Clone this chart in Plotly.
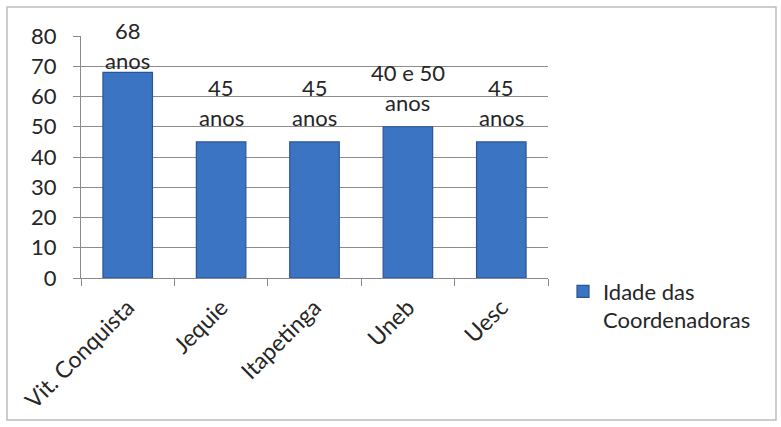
import plotly.graph_objects as go

categories = ["Vit. Conquista", "Jequie", "Itapetinga", "Uneb", "Uesc"]
values = [68, 45, 45, 50, 45]
value_labels = ["68", "45", "45", "40 e 50", "45"]
unit_label = "anos"
series_name = "Idade das<br>Coordenadoras"
y_ticks = [0, 10, 20, 30, 40, 50, 60, 70, 80]

FONT = "Lato, 'Open Sans', sans-serif"
TXT = "#262626"
W, H = 781, 427
L, R, T, B = 81, 233, 36, 149
pw, ph = W - L - R, H - T - B
YMAX = 80
px_per_unit = ph / YMAX

fig = go.Figure()
fig.add_trace(go.Bar(
    x=categories, y=values, name=series_name,
    marker=dict(color="#3b74c2", line=dict(color="#2a5593", width=1.2)),
    width=0.53,
))

annotations = []
for cat, v, num in zip(categories, values, value_labels):
    top_abs = T + (YMAX - v) * px_per_unit
    shift_num = min(54, top_abs - 30)
    shift_unit = shift_num - 30
    for txt, sh in ((num, shift_num), (unit_label, shift_unit)):
        annotations.append(dict(x=cat, y=v, xref="x", yref="y", text=txt,
                                showarrow=False, yanchor="middle", yshift=sh,
                                font=dict(family=FONT, size=22, color=TXT)))

fig.update_layout(
    width=W, height=H,
    margin=dict(l=L, r=R, t=T, b=B),
    paper_bgcolor="white", plot_bgcolor="white",
    font=dict(family=FONT, size=21, color=TXT),
    showlegend=True,
    legend=dict(x=(563 - L) / pw, y=(T + ph - 306) / ph, xanchor="left", yanchor="middle",
                valign="top", itemwidth=30,
                font=dict(family=FONT, size=22, color=TXT), bgcolor="rgba(0,0,0,0)"),
    xaxis=dict(showline=True, linecolor="#8a8a8a", ticks="outside", tickson="boundaries",
               ticklen=7, tickcolor="#8a8a8a", tickangle=-45, showgrid=False,
               ticklabelstandoff=6,
               tickfont=dict(family=FONT, size=23, color=TXT)),
    yaxis=dict(range=[0, YMAX], tickvals=y_ticks, showline=True, linecolor="#8a8a8a",
               ticks="outside", ticklen=7, tickcolor="#8a8a8a", gridcolor="#8c8c8c",
               gridwidth=1, zeroline=False, ticklabelstandoff=12,
               tickfont=dict(family=FONT, size=22, color=TXT)),
    annotations=annotations,
    shapes=[dict(type="rect", xref="paper", yref="paper",
                 x0=(7 - L) / pw, x1=(776 - L) / pw,
                 y0=(T + ph - 420) / ph, y1=(T + ph - 7) / ph,
                 line=dict(color="#bdbdbd", width=1.5), layer="below")],
)

fig.write_html("out.html", config={"displayModeBar": False},
               post_script="document.body.style.margin='0';document.body.style.padding='0';")
